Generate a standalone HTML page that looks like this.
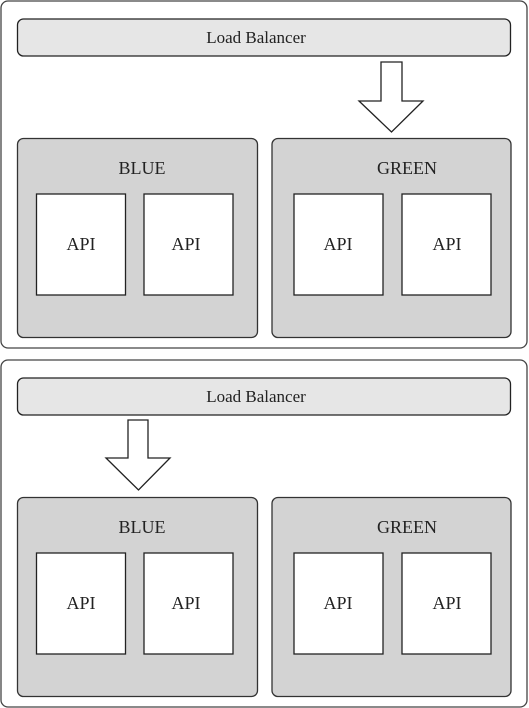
<!DOCTYPE html>
<html><head><meta charset="utf-8"><style>
html,body{margin:0;padding:0;background:#fff;}
svg{display:block;}
svg text{font-family:'Liberation Serif','DejaVu Serif',serif !important;fill:#222;}
</style></head><body>
<svg width="529" height="708" viewBox="0 0 529 708" xmlns="http://www.w3.org/2000/svg">
<g>
  <rect x="1" y="1" width="526" height="347" rx="7" fill="#fff" stroke="#444" stroke-width="1.3"/>
  <rect x="17.5" y="19" width="493" height="37" rx="6" fill="#e6e6e6" stroke="#222" stroke-width="1.3"/>
  <text x="256" y="43" font-size="17" text-anchor="middle">Load Balancer</text>
  <rect x="17.5" y="138.5" width="240" height="199" rx="6" fill="#d3d3d3" stroke="#333" stroke-width="1.3"/>
  <rect x="272" y="138.5" width="239" height="199" rx="6" fill="#d3d3d3" stroke="#333" stroke-width="1.3"/>
  <text x="142" y="174" font-size="18" text-anchor="middle">BLUE</text>
  <text x="407" y="174" font-size="18" text-anchor="middle">GREEN</text>
  <rect x="36.5" y="194" width="89" height="101" fill="#fff" stroke="#222" stroke-width="1.3"/>
  <rect x="144" y="194" width="89" height="101" fill="#fff" stroke="#222" stroke-width="1.3"/>
  <rect x="294" y="194" width="89" height="101" fill="#fff" stroke="#222" stroke-width="1.3"/>
  <rect x="402" y="194" width="89" height="101" fill="#fff" stroke="#222" stroke-width="1.3"/>
  <text x="81" y="250" font-size="18" text-anchor="middle">API</text>
  <text x="186" y="250" font-size="18" text-anchor="middle">API</text>
  <text x="338" y="250" font-size="18" text-anchor="middle">API</text>
  <text x="447" y="250" font-size="18" text-anchor="middle">API</text>
</g>
<polygon points="381,62 402,62 402,101 423,101 391.5,132 359,101 381,101" fill="#fff" stroke="#222" stroke-width="1.3"/>
<g transform="translate(0,359)">
  <rect x="1" y="1" width="526" height="347" rx="7" fill="#fff" stroke="#444" stroke-width="1.3"/>
  <rect x="17.5" y="19" width="493" height="37" rx="6" fill="#e6e6e6" stroke="#222" stroke-width="1.3"/>
  <text x="256" y="43" font-size="17" text-anchor="middle">Load Balancer</text>
  <rect x="17.5" y="138.5" width="240" height="199" rx="6" fill="#d3d3d3" stroke="#333" stroke-width="1.3"/>
  <rect x="272" y="138.5" width="239" height="199" rx="6" fill="#d3d3d3" stroke="#333" stroke-width="1.3"/>
  <text x="142" y="174" font-size="18" text-anchor="middle">BLUE</text>
  <text x="407" y="174" font-size="18" text-anchor="middle">GREEN</text>
  <rect x="36.5" y="194" width="89" height="101" fill="#fff" stroke="#222" stroke-width="1.3"/>
  <rect x="144" y="194" width="89" height="101" fill="#fff" stroke="#222" stroke-width="1.3"/>
  <rect x="294" y="194" width="89" height="101" fill="#fff" stroke="#222" stroke-width="1.3"/>
  <rect x="402" y="194" width="89" height="101" fill="#fff" stroke="#222" stroke-width="1.3"/>
  <text x="81" y="250" font-size="18" text-anchor="middle">API</text>
  <text x="186" y="250" font-size="18" text-anchor="middle">API</text>
  <text x="338" y="250" font-size="18" text-anchor="middle">API</text>
  <text x="447" y="250" font-size="18" text-anchor="middle">API</text>
</g>
<polygon points="128,420 148,420 148,458 170,458 138.5,490 106,458 128,458" fill="#fff" stroke="#222" stroke-width="1.3"/>
</svg>
</body></html>
